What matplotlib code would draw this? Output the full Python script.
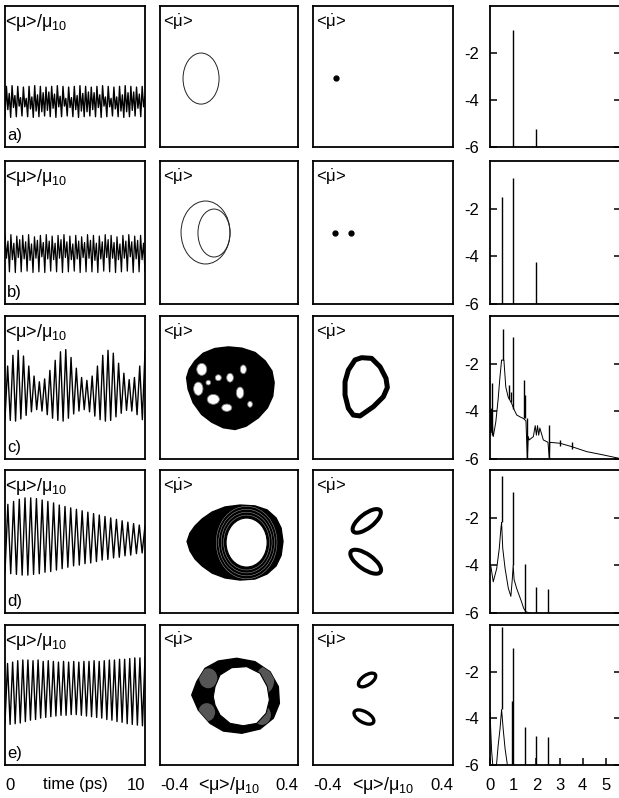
import numpy as np
import matplotlib
matplotlib.use('Agg')
from matplotlib import pyplot as plt, patches as mpatches

plt.rcParams['font.family'] = ['Liberation Sans', 'DejaVu Sans']
plt.rcParams['mathtext.fontset'] = 'custom'
plt.rcParams['mathtext.rm'] = 'Liberation Sans'
plt.rcParams['mathtext.it'] = 'Liberation Sans'
plt.rcParams['mathtext.sf'] = 'Liberation Sans'
plt.rcParams['axes.linewidth'] = 1.3

# ---------------- column 1: <mu>/mu10 versus time, successive extrema ----------------
a_peaks = [-0.14, -0.24, -0.13, -0.27, -0.14, -0.30, -0.15, -0.31, -0.14, -0.29,
           -0.13, -0.26, -0.14, -0.23, -0.15, -0.22, -0.14, -0.25, -0.13, -0.28,
           -0.14, -0.31, -0.15, -0.30, -0.14, -0.27, -0.13, -0.24, -0.14, -0.22,
           -0.15, -0.23, -0.14, -0.26, -0.13, -0.29, -0.14, -0.31, -0.15, -0.29,
           -0.14, -0.26, -0.13, -0.23, -0.14, -0.22, -0.15, -0.25, -0.14, -0.28]
a_troughs = [-0.57, -0.47, -0.58, -0.44, -0.57, -0.42, -0.56, -0.43, -0.57, -0.46,
             -0.58, -0.49, -0.57, -0.50, -0.56, -0.48, -0.57, -0.45, -0.58, -0.43,
             -0.57, -0.42, -0.56, -0.44, -0.57, -0.47, -0.58, -0.49, -0.57, -0.50,
             -0.56, -0.47, -0.57, -0.44, -0.58, -0.42, -0.57, -0.43, -0.56, -0.46,
             -0.57, -0.49, -0.58, -0.50, -0.57, -0.48, -0.56, -0.45, -0.57, -0.43]

b_top1 = [-0.04, -0.03, -0.05, -0.04, -0.03, -0.06, -0.04, -0.03, -0.05, -0.04, -0.03, -0.05,
          -0.04, -0.06, -0.03, -0.04, -0.05, -0.03, -0.04, -0.06, -0.04, -0.03, -0.05, -0.04]
b_mid = [-0.36, -0.38, -0.35, -0.37, -0.39, -0.36, -0.34, -0.37, -0.38, -0.36, -0.35, -0.38,
         -0.37, -0.35, -0.36, -0.39, -0.37, -0.35, -0.36, -0.38, -0.36, -0.34, -0.37, -0.38]
b_top2 = [-0.12, -0.15, -0.10, -0.13, -0.16, -0.11, -0.14, -0.12, -0.15, -0.10, -0.13, -0.16,
          -0.12, -0.14, -0.11, -0.15, -0.13, -0.10, -0.14, -0.16, -0.12, -0.13, -0.11, -0.15]
b_deep = [-0.55, -0.56, -0.55, -0.54, -0.56, -0.55, -0.56, -0.54, -0.55, -0.56, -0.55, -0.54,
          -0.56, -0.55, -0.55, -0.56, -0.54, -0.55, -0.56, -0.55, -0.54, -0.56, -0.55, -0.55]

c_troughs = [-0.44, -0.46, -0.47, -0.44, -0.39, -0.34, -0.31, -0.33, -0.38, -0.43, -0.46, -0.47, -0.43, -0.37,
             -0.33, -0.31, -0.34, -0.40, -0.45, -0.47, -0.46, -0.41, -0.36, -0.32, -0.33, -0.38, -0.45]
c_peaks = [0.30, 0.45, 0.52, 0.44, 0.30, 0.16, 0.08, 0.12, 0.24, 0.38, 0.50, 0.53, 0.42, 0.27,
           0.14, 0.10, 0.16, 0.30, 0.45, 0.52, 0.48, 0.34, 0.20, 0.11, 0.14, 0.30, 0.50]

d_troughs = [-0.43, -0.45, -0.46, -0.47, -0.47, -0.46, -0.45, -0.43, -0.42, -0.40, -0.38, -0.36, -0.34,
             -0.33, -0.31, -0.30, -0.28, -0.26, -0.25, -0.23, -0.22, -0.20, -0.19, -0.17, -0.16]
d_peaks = [0.52, 0.56, 0.59, 0.61, 0.61, 0.60, 0.58, 0.56, 0.54, 0.51, 0.49, 0.47, 0.45,
           0.43, 0.41, 0.39, 0.37, 0.35, 0.33, 0.31, 0.29, 0.27, 0.25, 0.23, 0.22]

e_troughs = [-0.40, -0.42, -0.41, -0.40, -0.38, -0.36, -0.35, -0.33, -0.32, -0.31, -0.30, -0.29, -0.29, -0.28,
             -0.28, -0.29, -0.30, -0.31, -0.32, -0.33, -0.35, -0.36, -0.38, -0.39, -0.41, -0.42, -0.43, -0.44]
e_peaks = [0.45, 0.47, 0.49, 0.50, 0.50, 0.49, 0.50, 0.48, 0.49, 0.48, 0.47, 0.48, 0.47, 0.48,
           0.47, 0.48, 0.48, 0.49, 0.48, 0.49, 0.50, 0.50, 0.51, 0.51, 0.52, 0.53, 0.53, 0.54]

# ---------------- column 2: phase portraits (<mu>/mu10, <mu dot>) ----------------
pa_cx, pa_cy, pa_w, pa_h = [-0.162], [-0.012], [0.209], [0.297]
pb_cx, pb_cy, pb_w, pb_h = [-0.136, -0.087], [0.0, -0.003], [0.284, 0.186], [0.361, 0.275]

pc_x = [-0.245, -0.230, -0.197, -0.149, -0.081, -0.004, 0.074, 0.151, 0.209, 0.248, 0.261,
        0.253, 0.222, 0.170, 0.099, 0.035, -0.033, -0.100, -0.158, -0.207, -0.236]
pc_y = [0.056, 0.104, 0.152, 0.196, 0.223, 0.232, 0.225, 0.200, 0.152, 0.095, 0.028,
        -0.049, -0.116, -0.173, -0.221, -0.240, -0.230, -0.198, -0.154, -0.087, -0.010]
pc_gap_x = [-0.158, -0.178, -0.091, -0.013, -0.062, 0.006, 0.064, 0.083, -0.120, 0.122]
pc_gap_y = [0.104, -0.007, -0.068, -0.116, 0.056, 0.056, -0.030, 0.104, 0.028, -0.096]
pc_gap_w = [0.058, 0.054, 0.070, 0.058, 0.035, 0.039, 0.043, 0.035, 0.027, 0.027]
pc_gap_h = [0.069, 0.076, 0.057, 0.042, 0.034, 0.050, 0.065, 0.050, 0.027, 0.034]

pd_x = [-0.243, -0.226, -0.197, -0.156, -0.098, -0.023, 0.064, 0.151, 0.221, 0.273, 0.302,
        0.313, 0.302, 0.273, 0.221, 0.151, 0.064, -0.023, -0.098, -0.156, -0.197, -0.226]
pd_y = [0.0, 0.049, 0.089, 0.129, 0.169, 0.198, 0.209, 0.204, 0.181, 0.135, 0.077,
        0.0, -0.080, -0.140, -0.186, -0.215, -0.221, -0.209, -0.181, -0.140, -0.100, -0.054]
pd_hole = (0.102, -0.006, 0.238, 0.281)
pd_rings = [1.12, 1.24, 1.36, 1.48]

pe_x = [-0.216, -0.187, -0.139, -0.062, 0.045, 0.151, 0.238, 0.286, 0.292, 0.257, 0.180,
        0.074, -0.033, -0.110, -0.178]
pe_y = [0.0, 0.078, 0.156, 0.199, 0.215, 0.195, 0.136, 0.049, -0.049, -0.136, -0.199,
        -0.224, -0.211, -0.166, -0.088]
pe_hole_x = [-0.081, -0.052, 0.016, 0.103, 0.180, 0.222, 0.234, 0.215, 0.161, 0.083, 0.006,
             -0.052, -0.081, -0.091]
pe_hole_y = [0.049, 0.117, 0.160, 0.166, 0.127, 0.049, -0.029, -0.107, -0.166, -0.180, -0.166,
             -0.117, -0.059, -0.010]
pe_gray_x = [-0.120, -0.129, 0.209, 0.190]
pe_gray_y = [0.098, -0.101, 0.088, -0.117]
pe_gray_w = [0.106, 0.097, 0.106, 0.106]
pe_gray_h = [0.117, 0.107, 0.156, 0.117]

# ---------------- column 3: stroboscopic sections ----------------
sa_x, sa_y = [-0.269], [-0.009]
sb_x, sb_y = [-0.274, -0.183], [-0.003, -0.003]
sc_x = [-0.122, -0.065, -0.017, 0.017, 0.025, 0.002, -0.055, -0.131, -0.170, -0.198, -0.217,
        -0.217, -0.198, -0.160]
sc_y = [0.171, 0.167, 0.119, 0.053, 0.0, -0.053, -0.110, -0.163, -0.158, -0.119, -0.043,
        0.033, 0.100, 0.158]
sd_cx, sd_cy, sd_w, sd_h, sd_ang = [-0.093, -0.099], [0.118, -0.116], [0.195, 0.206], [0.080, 0.086], [38, -35]
se_cx, se_cy, se_w, se_h, se_ang = [-0.091, -0.109], [0.088, -0.129], [0.114, 0.126], [0.057, 0.063], [35, -30]

# ---------------- column 4: log power spectra ----------------
fa_f, fa_top = [1.0, 2.0], [-1.0, -5.25]
fb_f, fb_top = [0.5, 1.0, 2.0], [-1.5, -0.7, -4.25]

fc_cf = [0.0, 0.02, 0.04, 0.06, 0.08, 0.10, 0.12, 0.14, 0.25, 0.35, 0.43, 0.50, 0.60, 0.68, 0.78,
         0.93, 1.05, 1.15, 1.29, 1.44, 1.55, 1.61, 1.65, 1.69, 1.87, 1.95, 2.0, 2.05, 2.1, 2.15,
         2.3, 2.5, 2.56, 2.58, 3.02, 3.52, 4.17, 4.89, 5.56, 5.65]
fc_cv = [-5.0, -4.0, -4.9, -3.9, -4.8, -4.2, -4.9, -5.06, -4.45, -3.5, -2.55, -1.85, -1.85, -2.97, -3.39,
         -3.66, -3.95, -4.15, -4.23, -4.3, -4.4, -6.0, -5.06, -5.2, -5.06, -4.6, -5.0, -4.6, -5.0, -4.7,
         -5.2, -5.3, -6.0, -5.3, -5.34, -5.48, -5.69, -5.83, -5.97, -6.0]
fc_f = [0.07, 0.545, 0.84, 0.90, 1.0, 1.45, 1.50, 1.58, 2.56, 3.02, 3.52]
fc_base = [-5.0, -1.85, -3.5, -3.6, -3.9, -4.3, -4.3, -6.0, -6.0, -5.45, -5.6]
fc_top = [-2.83, -0.56, -2.9, -3.2, -0.9, -2.69, -3.3, -4.3, -4.57, -5.2, -5.3]

fd_cf = [0.0, 0.04, 0.14, 0.29, 0.40, 0.47, 0.50, 0.55, 0.65, 0.79, 0.90, 0.96, 1.0, 1.04, 1.15,
         1.36, 1.45, 1.55, 1.72]
fd_cv = [-4.0, -4.05, -4.69, -4.13, -3.29, -2.45, -2.2, -3.29, -4.13, -4.96, -5.3, -4.6, -4.0, -4.6,
         -4.97, -5.53, -5.8, -5.95, -6.0]
fd_f = [0.5, 1.0, 1.5, 2.0, 2.5]
fd_base = [-2.2, -4.0, -6.0, -6.0, -6.0]
fd_top = [-0.25, -0.92, -3.95, -4.9, -5.0]

fe_cf = [0.0, 0.07, 0.12, 0.28, 0.35, 0.43, 0.50, 0.57, 0.65, 0.75]
fe_cv = [-3.75, -5.4, -6.0, -6.0, -5.18, -4.47, -3.62, -4.47, -5.3, -6.0]
fe_f = [0.5, 0.95, 1.0, 1.5, 2.0, 2.5]
fe_base = [-3.62, -6.0, -6.0, -6.0, -6.0, -6.0]
fe_top = [-0.1, -3.26, -0.98, -4.35, -4.77, -4.8]

row_names = ['a)', 'b)', 'c)', 'd)', 'e)']
MU = '<μ>/μ$_{10}$'
MUDOT = r'<$\dot{\mu}$>'

# panel placement in pixels of the 619x798 figure
col_px = [(5, 145), (160, 298), (313, 453), (490, 621)]
row_px = [(6, 147), (161, 304), (316, 459), (470, 613), (625, 765)]

fig = plt.figure(figsize=(6.19, 7.98), dpi=100)


def add_ax(c, r):
    x0, x1 = col_px[c]
    y0, y1 = row_px[r]
    return fig.add_axes([x0 / 619, 1 - y1 / 798, (x1 - x0) / 619, (y1 - y0) / 798])


def bare(ax):
    ax.set_xticks([])
    ax.set_yticks([])


def zigzag(*levels):
    seq = np.column_stack(levels).ravel()
    return np.linspace(0, 10, len(seq)), seq


series = [
    zigzag(a_troughs, a_peaks),
    zigzag(b_top1, b_mid, b_top2, b_deep),
    zigzag(c_troughs, c_peaks),
    zigzag(d_troughs, d_peaks),
    zigzag(e_troughs, e_peaks),
]
lws = [1.0, 0.9, 1.0, 1.0, 1.0]

for r in range(5):
    # time trace
    ax = add_ax(0, r)
    t, v = series[r]
    ax.plot(t, v, color='black', lw=lws[r])
    ax.set_xlim(0, 10)
    ax.set_ylim(-1, 1)
    bare(ax)
    ax.text(0.0, 0.955, MU, transform=ax.transAxes, ha='left', va='top', fontsize=13)
    ax.text(0.015, 0.03, row_names[r], transform=ax.transAxes, ha='left', va='bottom', fontsize=12)

    # phase portrait and section
    pan = []
    for c in (1, 2):
        axp = add_ax(c, r)
        axp.set_xlim(-0.4, 0.4)
        axp.set_ylim(-0.41, 0.41)
        bare(axp)
        axp.text(0.02, 0.955, MUDOT, transform=axp.transAxes, ha='left', va='top', fontsize=12)
        pan.append(axp)
    ax2, ax3 = pan

    # spectrum
    ax4 = add_ax(3, r)
    ax4.set_xlim(0, 5.65)
    ax4.set_ylim(-6, 0)
    ax4.set_yticks([-6, -4, -2])
    ax4.set_yticklabels(['-6', '-4', '-2'])
    ax4.tick_params(axis='y', which='both', direction='in', length=5, width=1.1,
                    left=True, right=True, labelsize=12, pad=8)
    if r == 4:
        ax4.set_xticks([0, 1, 2, 3, 4, 5])
        ax4.tick_params(axis='x', direction='in', length=5, width=1.1, labelsize=12, pad=9)
    else:
        ax4.set_xticks([])

    if r == 0:
        for cx, cy, w, h in zip(pa_cx, pa_cy, pa_w, pa_h):
            ax2.add_patch(mpatches.Ellipse((cx, cy), w, h, fill=False, ec='#222222', lw=0.7))
        ax3.plot(sa_x, sa_y, 'o', color='black', ms=3.5)
        ax4.vlines(fa_f, -6, fa_top, color='black', lw=1.0)
    elif r == 1:
        for cx, cy, w, h in zip(pb_cx, pb_cy, pb_w, pb_h):
            ax2.add_patch(mpatches.Ellipse((cx, cy), w, h, fill=False, ec='#222222', lw=0.7))
        ax3.plot(sb_x, sb_y, 'o', color='black', ms=3.5)
        ax4.vlines(fb_f, -6, fb_top, color='black', lw=1.0)
    elif r == 2:
        body = mpatches.Polygon(np.column_stack([pc_x, pc_y]), closed=True, fc='black', ec='black',
                                lw=1.2, joinstyle='round')
        ax2.add_patch(body)
        for gx, gy, gw, gh in zip(pc_gap_x, pc_gap_y, pc_gap_w, pc_gap_h):
            ax2.add_patch(mpatches.Ellipse((gx, gy), gw, gh, fc='white', ec='#777777', lw=0.6))
        ax3.add_patch(mpatches.Polygon(np.column_stack([sc_x, sc_y]), closed=True, fill=False,
                                       ec='black', lw=3.6, joinstyle='round'))
        ax4.plot(fc_cf, fc_cv, color='black', lw=0.7)
        ax4.vlines(fc_f, fc_base, fc_top, color='black', lw=1.0)
    elif r == 3:
        body = mpatches.Polygon(np.column_stack([pd_x, pd_y]), closed=True, fc='black', ec='black',
                                lw=1.0, joinstyle='round')
        ax2.add_patch(body)
        hx, hy, hw, hh = pd_hole
        for k in pd_rings:
            ring = mpatches.Ellipse((hx, hy), hw * k, hh * k, fill=False, ec='#bbbbbb', lw=0.3)
            ax2.add_patch(ring)
            ring.set_clip_path(body)
        ax2.add_patch(mpatches.Ellipse((hx, hy), hw, hh, fc='white', ec='black', lw=0.8))
        for cx, cy, w, h, ang in zip(sd_cx, sd_cy, sd_w, sd_h, sd_ang):
            ax3.add_patch(mpatches.Ellipse((cx, cy), w, h, angle=ang, fill=False, ec='black', lw=2.9))
        ax4.plot(fd_cf, fd_cv, color='black', lw=0.7)
        ax4.vlines(fd_f, fd_base, fd_top, color='black', lw=1.0)
    else:
        body = mpatches.Polygon(np.column_stack([pe_x, pe_y]), closed=True, fc='black', ec='black',
                                lw=1.0, joinstyle='round')
        ax2.add_patch(body)
        for gx, gy, gw, gh in zip(pe_gray_x, pe_gray_y, pe_gray_w, pe_gray_h):
            g = mpatches.Ellipse((gx, gy), gw, gh, fc='#555555', ec='none')
            ax2.add_patch(g)
            g.set_clip_path(body)
        ax2.add_patch(mpatches.Polygon(np.column_stack([pe_hole_x, pe_hole_y]), closed=True,
                                       fc='white', ec='black', lw=0.8, joinstyle='round'))
        for cx, cy, w, h, ang in zip(se_cx, se_cy, se_w, se_h, se_ang):
            ax3.add_patch(mpatches.Ellipse((cx, cy), w, h, angle=ang, fill=False, ec='black', lw=2.4))
        ax4.plot(fe_cf, fe_cv, color='black', lw=0.7)
        ax4.vlines(fe_f, fe_base, fe_top, color='black', lw=1.0)

        # bottom axis annotations
        below = -20 / 140
        ax.text(0.0, below, '0', transform=ax.transAxes, ha='left', va='center', fontsize=12)
        ax.text(0.5, below, 'time (ps)', transform=ax.transAxes, ha='center', va='center', fontsize=12)
        ax.text(1.0, below, '10', transform=ax.transAxes, ha='right', va='center', fontsize=12)
        for axx in (ax2, ax3):
            axx.text(0.0, below, '-0.4', transform=axx.transAxes, ha='left', va='center', fontsize=12)
            axx.text(0.5, below, MU, transform=axx.transAxes, ha='center', va='center', fontsize=13)
            axx.text(1.0, below, '0.4', transform=axx.transAxes, ha='right', va='center', fontsize=12)

fig.savefig('out.png', dpi=100)
